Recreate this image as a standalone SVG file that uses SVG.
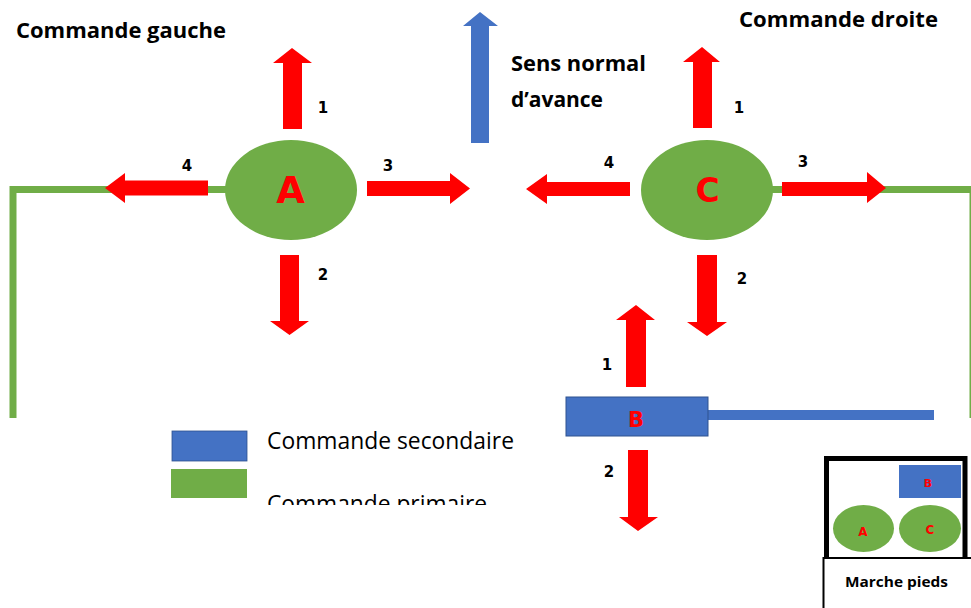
<svg xmlns="http://www.w3.org/2000/svg" width="971" height="608" viewBox="0 0 971 608">
<defs>
<style>
.red{fill:#FF0000}
.grn{fill:#70AD47}
.blu{fill:#4472C4}
.gline{stroke:#70AD47;stroke-width:7;fill:none}
.head{font-family:"Open Sans","Liberation Sans",sans-serif;font-weight:700;font-size:22px;fill:#000}
.leg{font-family:"Open Sans","Liberation Sans",sans-serif;font-weight:400;font-size:23px;fill:#000}
.num{font-family:"DejaVu Sans","Liberation Sans",sans-serif;font-weight:700;font-size:15px;fill:#000;text-anchor:middle}
.let{font-family:"DejaVu Sans","Liberation Sans",sans-serif;font-weight:700;fill:#FF0000;text-anchor:middle}
</style>
<clipPath id="clipPrim"><rect x="255" y="460" width="290" height="45"/></clipPath>
</defs>
<rect width="971" height="608" fill="#fff"/>

<g id="connectors">
  <path class="gline" d="M13,418 V189.5 H230"/>
  <path class="gline" d="M770,189.5 H971"/>
  <rect class="grn" x="969.5" y="186" width="1.5" height="232"/>
  <rect class="blu" x="706" y="410" width="228" height="10"/>
</g>

<g id="node-A">
  <ellipse class="grn" cx="291" cy="190" rx="66" ry="50"/>
  <text class="let" x="290.5" y="203" font-size="37">A</text>
  <polygon class="red" points="283,129 283,63 273,63 292,48 312,63 302,63 302,129"/>
  <polygon class="red" points="208,180.5 125,180.5 125,173 105,188 125,203 125,195.5 208,195.5"/>
  <polygon class="red" points="367,181 450,181 450,173 470,188.5 450,204 450,196 367,196"/>
  <polygon class="red" points="280,255 280,321 270,321 289.5,335 309,321 299,321 299,255"/>
  <text class="num" x="323" y="113">1</text>
  <text class="num" x="187" y="171">4</text>
  <text class="num" x="388" y="171">3</text>
  <text class="num" x="323" y="280">2</text>
</g>

<g id="node-C">
  <ellipse class="grn" cx="707" cy="190" rx="66" ry="50"/>
  <text class="let" x="707.5" y="201.5" font-size="33">C</text>
  <polygon class="red" points="693,128 693,62 683,62 702,47 720,62 712,62 712,128"/>
  <polygon class="red" points="630,182 547,182 547,174 526,189 547,204 547,196 630,196"/>
  <polygon class="red" points="782,182 867,182 867,172 886,188 867,203 867,196 782,196"/>
  <polygon class="red" points="697,255 697,322 687,322 707,336 727,322 717,322 717,255"/>
  <text class="num" x="739" y="113">1</text>
  <text class="num" x="609" y="168">4</text>
  <text class="num" x="803" y="167">3</text>
  <text class="num" x="742" y="284">2</text>
</g>

<g id="node-B">
  <rect class="blu" x="566" y="397" width="142" height="39" stroke="#2F528F" stroke-width="1"/>
  <text class="let" x="636" y="427" font-size="21">B</text>
  <polygon class="red" points="626,387 626,320 616,320 636,305 655,320 646,320 646,387"/>
  <polygon class="red" points="628,450 628,517 619,517 638,531 658,517 648,517 648,450"/>
  <text class="num" x="607" y="370">1</text>
  <text class="num" x="609" y="477">2</text>
</g>

<g id="direction">
  <polygon class="blu" points="471,143 471,26 463,26 480,12 498,26 489,26 489,143"/>
  <text class="head" x="511" y="71" textLength="135" lengthAdjust="spacingAndGlyphs">Sens normal</text>
  <text class="head" x="511" y="107" textLength="92" lengthAdjust="spacingAndGlyphs">d’avance</text>
</g>

<g id="titles">
  <text class="head" x="16" y="38" textLength="210" lengthAdjust="spacingAndGlyphs">Commande gauche</text>
  <text class="head" x="739" y="27" textLength="199" lengthAdjust="spacingAndGlyphs">Commande droite</text>
</g>

<g id="legend">
  <rect class="blu" x="172" y="431" width="75" height="30" stroke="#2F528F" stroke-width="0.8"/>
  <rect class="grn" x="171" y="469" width="76" height="29"/>
  <text class="leg" x="267" y="449" textLength="247" lengthAdjust="spacingAndGlyphs">Commande secondaire</text>
  <text class="leg" x="267" y="511.5" textLength="220" lengthAdjust="spacingAndGlyphs" clip-path="url(#clipPrim)">Commande primaire</text>
</g>

<g id="marche-pieds">
  <path d="M826.5,558 V458.5 H965 V558" fill="none" stroke="#000" stroke-width="5"/>
  <rect x="823.5" y="558" width="160" height="60" fill="#fff" stroke="#000" stroke-width="2"/>
  <rect class="blu" x="899" y="465" width="62" height="33"/>
  <text class="let" x="928" y="487" font-size="11">B</text>
  <ellipse class="grn" cx="863.5" cy="528.5" rx="30.5" ry="23.5"/>
  <text class="let" x="863" y="536" font-size="12">A</text>
  <ellipse class="grn" cx="930" cy="528.5" rx="31" ry="23.5"/>
  <text class="let" x="930" y="533.5" font-size="12">C</text>
  <text x="845" y="587" font-family="Open Sans, Liberation Sans, sans-serif" font-weight="700" font-size="14" textLength="103" lengthAdjust="spacingAndGlyphs">Marche pieds</text>
</g>
</svg>
